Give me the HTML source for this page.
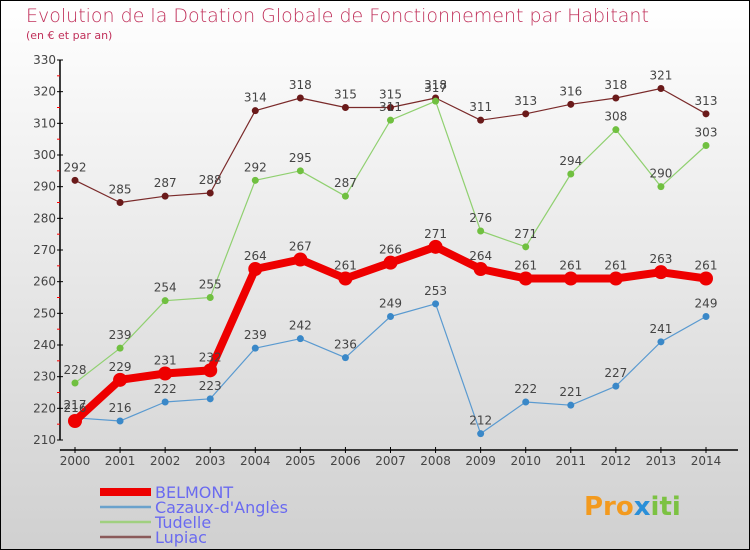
<!DOCTYPE html>
<html><head><meta charset="utf-8"><style>
body{margin:0}
#c{width:750px;height:550px;position:relative;overflow:hidden;font-family:"DejaVu Sans","Liberation Sans",sans-serif}
</style></head><body>
<div id="c">
<svg id="s" width="750" height="550" xmlns="http://www.w3.org/2000/svg">
<defs><linearGradient id="bg" x1="0" y1="0" x2="0" y2="1"><stop offset="0" stop-color="#ffffff"/><stop offset="1" stop-color="#d0d0d0"/></linearGradient></defs>
<rect x="0.5" y="0.5" width="749" height="549" fill="url(#bg)" stroke="#000"/>
<text x="26" y="22" font-size="19" fill="#c0305a" font-weight="300">Evolution de la Dotation Globale de Fonctionnement par Habitant</text>
<text x="26" y="39" font-size="11" fill="#c0305a">(en € et par an)</text>
<g id="axes"></g>
<g id="series"></g>
<g id="legend"></g>
<text x="584" y="515" font-size="26" font-weight="bold" fill="#f39a1e">Pro<tspan fill="#2a8fd8">x</tspan><tspan fill="#7cc242">iti</tspan></text>
</svg>
</div>
<script>
const years=[2000,2001,2002,2003,2004,2005,2006,2007,2008,2009,2010,2011,2012,2013,2014];
const yTicks=[210,220,230,240,250,260,270,280,290,300,310,320,330];
const belmont=[216,229,231,232,264,267,261,266,271,264,261,261,261,263,261];
const cazaux=[217,216,222,223,239,242,236,249,253,212,222,221,227,241,249];
const tudelle=[228,239,254,255,292,295,287,311,317,276,271,294,308,290,303];
const lupiac=[292,285,287,288,314,318,315,315,318,311,313,316,318,321,313];
const NS="http://www.w3.org/2000/svg";
const X=i=>75+i*(706-75)/(years.length-1);
const Y=v=>440-(v-210)*380/120;
function mk(tag,attrs,parent,text){const e=document.createElementNS(NS,tag);for(const k in attrs)e.setAttribute(k,attrs[k]);if(text!==undefined)e.textContent=text;parent.appendChild(e);return e;}
const ax=document.getElementById('axes');
let e=mk('line',{x1:60,y1:60,x2:60,y2:440,stroke:'#000','stroke-width':1.5},ax);

e=mk('line',{x1:60,y1:450,x2:738,y2:450,stroke:'#000','stroke-width':1.5},ax);

yTicks.forEach((t,i)=>{
 mk('line',{x1:57,y1:Y(t),x2:63,y2:Y(t),stroke:'#000'},ax);
 if(i<yTicks.length-1){mk('line',{x1:57,y1:Y(t+5),x2:60,y2:Y(t+5),stroke:'#f00'},ax);}
 e=mk('text',{x:56,y:Y(t)+4,'text-anchor':'end','font-size':12,fill:'#444'},ax,t);
 
});
years.forEach((y,i)=>{
 mk('line',{x1:X(i),y1:447,x2:X(i),y2:453,stroke:'#000'},ax);
 e=mk('text',{x:X(i),y:465,'text-anchor':'middle','font-size':12,fill:'#444'},ax,y);
 
});
const sg=document.getElementById('series');
const defs=[
 {name:'lupiac',data:lupiac,color:'#7a2a2a',dot:'#6a1a1a',w:1.2,r:3.5,fs:12},
 {name:'tudelle',data:tudelle,color:'#90d070',dot:'#70c040',w:1.2,r:3.5,fs:12},
 {name:'cazaux',data:cazaux,color:'#5a9ad0',dot:'#3a88c8',w:1.2,r:3.5,fs:12},
 {name:'belmont',data:belmont,color:'#ee0000',dot:'#ee0000',w:8,r:7,fs:12}
];
defs.forEach(d=>{
 const g=mk('g',{},sg);
 
 const pts=d.data.map((v,i)=>X(i)+','+Y(v)).join(' ');
 e=mk('polyline',{points:pts,fill:'none',stroke:d.color,'stroke-width':d.w,'stroke-linejoin':'round'},g);
 
 d.data.forEach((v,i)=>{
  e=mk('circle',{cx:X(i),cy:Y(v),r:d.r,fill:d.dot},g);
  
  e=mk('text',{x:X(i),y:Y(v)-9,'text-anchor':'middle','font-size':d.fs,fill:'#444'},g,v);
  
 });
});
const lg=document.getElementById('legend');
const leg=[['BELMONT','#ee0000',8],["Cazaux-d'Anglès",'#6aa2cc',2.5],['Tudelle','#a0d080',2.5],['Lupiac','#8a5a5a',2.5]];
leg.forEach((l,i)=>{
 const y=492+i*15;
 const g=mk('g',{},lg);
 
 mk('line',{x1:100,y1:y,x2:151,y2:y,stroke:l[1],'stroke-width':l[2]},g);
 mk('text',{x:155,y:y+6,'font-size':16,fill:'#6a6af0'},g,l[0]);
});
</script>
</body></html>
